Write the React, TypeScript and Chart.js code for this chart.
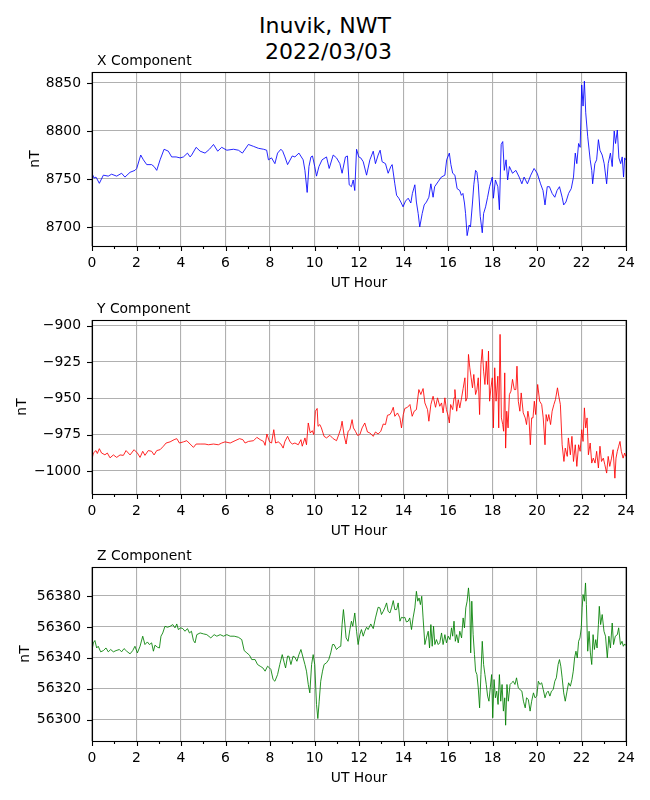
import React, { useEffect, useRef } from 'react';
import Chart from 'chart.js/auto';

// [UT hour, nT]
const xComponent: [number, number][] = [
  [0.00, 8756], [0.09, 8751], [0.18, 8752], [0.33, 8745.5], [0.51, 8754], [0.73, 8753], [0.88, 8755],
  [1.11, 8753], [1.33, 8756], [1.48, 8752], [1.71, 8757], [1.93, 8759], [2.01, 8761], [2.19, 8775],
  [2.31, 8770], [2.46, 8765], [2.68, 8765], [2.79, 8763], [2.91, 8759], [3.06, 8770], [3.24, 8781],
  [3.43, 8779], [3.58, 8773], [3.78, 8773], [3.96, 8772], [4.11, 8773], [4.29, 8777], [4.41, 8773],
  [4.48, 8775], [4.68, 8783], [4.86, 8779], [5.08, 8777], [5.28, 8781], [5.46, 8786], [5.65, 8779],
  [5.83, 8783], [6.06, 8780], [6.36, 8781], [6.58, 8780], [6.76, 8777], [7.03, 8786], [7.26, 8784],
  [7.48, 8782], [7.71, 8781], [7.85, 8780], [7.93, 8770], [8.07, 8772], [8.22, 8766], [8.34, 8777],
  [8.49, 8781], [8.57, 8779], [8.67, 8773], [8.79, 8765], [9.00, 8774], [9.12, 8773], [9.30, 8777],
  [9.49, 8770], [9.57, 8759], [9.67, 8736], [9.75, 8763], [9.84, 8773], [9.91, 8774], [10.01, 8763],
  [10.09, 8753], [10.20, 8763], [10.34, 8770], [10.54, 8773], [10.66, 8761], [10.84, 8775], [10.99, 8772],
  [11.14, 8766], [11.24, 8756], [11.39, 8773], [11.48, 8774], [11.56, 8744], [11.66, 8742], [11.74, 8749],
  [11.81, 8738], [11.89, 8781], [11.99, 8773], [12.08, 8772], [12.19, 8768], [12.34, 8754], [12.49, 8770],
  [12.64, 8779], [12.74, 8766], [12.86, 8775], [12.95, 8780], [13.04, 8768], [13.19, 8766], [13.31, 8756],
  [13.43, 8763], [13.49, 8765], [13.61, 8745], [13.69, 8733], [13.79, 8730], [13.88, 8726], [13.98, 8721],
  [14.09, 8727], [14.21, 8730], [14.33, 8725], [14.40, 8735], [14.51, 8744], [14.58, 8726], [14.66, 8714],
  [14.73, 8700], [14.84, 8714], [14.93, 8723], [15.03, 8726], [15.14, 8731], [15.23, 8745], [15.33, 8731],
  [15.40, 8742], [15.55, 8747], [15.70, 8752], [15.86, 8754], [15.94, 8770], [16.06, 8777], [16.13, 8765],
  [16.21, 8756], [16.31, 8754], [16.41, 8740], [16.53, 8738], [16.60, 8733], [16.67, 8735], [16.74, 8725],
  [16.79, 8714], [16.86, 8691], [16.95, 8702], [17.01, 8700], [17.10, 8725], [17.16, 8744], [17.24, 8759],
  [17.30, 8757], [17.36, 8745], [17.45, 8711], [17.54, 8694], [17.60, 8714], [17.69, 8721], [17.78, 8731],
  [17.87, 8742], [17.99, 8752], [18.04, 8730], [18.13, 8749], [18.24, 8742], [18.31, 8718], [18.39, 8786],
  [18.46, 8789], [18.53, 8759], [18.61, 8770], [18.68, 8749], [18.76, 8763], [18.90, 8756], [19.05, 8759],
  [19.20, 8752], [19.32, 8745], [19.42, 8752], [19.57, 8745], [19.72, 8754], [19.87, 8761], [20.01, 8756],
  [20.16, 8745], [20.27, 8738], [20.36, 8723], [20.46, 8742], [20.56, 8742], [20.68, 8735], [20.80, 8731],
  [20.90, 8738], [21.01, 8742], [21.13, 8731], [21.20, 8723], [21.30, 8726], [21.42, 8735], [21.54, 8740],
  [21.64, 8752], [21.72, 8777], [21.79, 8766], [21.87, 8787], [21.94, 8783], [22.01, 8848], [22.07, 8826],
  [22.13, 8852], [22.19, 8819], [22.28, 8794], [22.39, 8770], [22.46, 8759], [22.50, 8745], [22.60, 8766],
  [22.68, 8770], [22.76, 8791], [22.83, 8780], [22.93, 8775], [23.02, 8766], [23.13, 8745], [23.20, 8766],
  [23.30, 8777], [23.38, 8763], [23.47, 8800], [23.53, 8787], [23.61, 8801], [23.68, 8772], [23.76, 8766],
  [23.83, 8773], [23.89, 8752], [23.94, 8772], [23.99, 8770],
];

const yComponent: [number, number][] = [
  [0.00, -992], [0.06, -987.7], [0.18, -986], [0.24, -988], [0.33, -984.7], [0.43, -987.7], [0.58, -988.9],
  [0.69, -987.7], [0.81, -991], [0.96, -989], [1.11, -990.7], [1.26, -989], [1.41, -989.3], [1.53, -986],
  [1.71, -989], [1.89, -985.4], [2.04, -987.7], [2.16, -990.7], [2.28, -986.5], [2.38, -989.3], [2.53, -986],
  [2.68, -986.5], [2.79, -989], [2.91, -986], [3.06, -985.4], [3.21, -983], [3.33, -980.8], [3.51, -980],
  [3.69, -978.5], [3.81, -977.8], [3.93, -980.8], [4.11, -980], [4.26, -979.2], [4.41, -981.5], [4.56, -983.8],
  [4.68, -981.5], [4.86, -981.5], [5.08, -981.5], [5.23, -982], [5.46, -981.5], [5.68, -982], [5.83, -980.8],
  [5.98, -980], [6.21, -980.8], [6.43, -979.2], [6.63, -977.8], [6.78, -978.5], [6.88, -980.8], [7.03, -979.7],
  [7.26, -979.2], [7.41, -976.9], [7.56, -978.5], [7.71, -979.7], [7.78, -982.4], [7.86, -974.6], [7.98, -980],
  [8.07, -980.8], [8.17, -971.6], [8.25, -980.8], [8.37, -980], [8.49, -981.5], [8.59, -984.3], [8.67, -979.7],
  [8.79, -976.2], [8.90, -980], [9.00, -981.5], [9.12, -980.8], [9.27, -982], [9.39, -978.5], [9.45, -983],
  [9.57, -977.3], [9.64, -982], [9.72, -967], [9.81, -973.9], [9.90, -972.3], [9.97, -975], [10.04, -958.9],
  [10.12, -957], [10.16, -969.3], [10.24, -968.1], [10.31, -970.4], [10.43, -976.2], [10.54, -977.3],
  [10.69, -975.5], [10.84, -977.8], [10.99, -979.2], [11.09, -975], [11.18, -970.9], [11.24, -965.8],
  [11.33, -975.5], [11.42, -981.5], [11.51, -972.7], [11.59, -971.6], [11.69, -964.7], [11.75, -970.4],
  [11.84, -972.7], [11.93, -975.5], [12.04, -975], [12.14, -970.4], [12.26, -967], [12.38, -973.2],
  [12.49, -973.9], [12.64, -976.2], [12.74, -973.2], [12.86, -974.6], [12.98, -972.7], [13.09, -967.7],
  [13.19, -968.1], [13.28, -961.7], [13.39, -961.2], [13.46, -959.4], [13.54, -956.2], [13.61, -962.4],
  [13.73, -960.1], [13.84, -963.5], [13.91, -970.4], [13.99, -961.2], [14.06, -957], [14.18, -956.2],
  [14.29, -954.3], [14.39, -962.4], [14.48, -958.9], [14.58, -957.8], [14.69, -944], [14.78, -947.4],
  [14.88, -943.3], [14.96, -953.2], [15.08, -957.8], [15.14, -965.8], [15.23, -954.3], [15.33, -948.6],
  [15.44, -956.2], [15.53, -949.7], [15.63, -955.5], [15.71, -953.2], [15.78, -960.1], [15.86, -949.7],
  [15.93, -957.8], [16.01, -962.4], [16.06, -967], [16.12, -954.3], [16.21, -957.8], [16.27, -949.7],
  [16.31, -944], [16.39, -958.9], [16.46, -950.9], [16.53, -956.6], [16.61, -949.7], [16.68, -943.3],
  [16.76, -935.9], [16.80, -952], [16.86, -949.7], [16.92, -919.8], [16.98, -929], [17.04, -935.9],
  [17.10, -942.8], [17.16, -933.6], [17.24, -947.4], [17.30, -944], [17.36, -935.9], [17.42, -961.2],
  [17.48, -926.7], [17.54, -916.3], [17.60, -931.3], [17.66, -940.5], [17.72, -924.4], [17.78, -940.5],
  [17.82, -917.5], [17.87, -952], [17.93, -942.8], [17.99, -935.9], [18.04, -970.4], [18.10, -929],
  [18.16, -952], [18.24, -934.8], [18.28, -970.4], [18.34, -906], [18.40, -963.5], [18.46, -968.1],
  [18.50, -972.7], [18.55, -932.5], [18.59, -984.3], [18.64, -958.9], [18.70, -970.4], [18.76, -947.4],
  [18.83, -945.1], [18.90, -937], [18.98, -944], [19.05, -944], [19.10, -927.9], [19.16, -952],
  [19.23, -958.9], [19.29, -946.3], [19.38, -960], [19.47, -963.5], [19.53, -968.1], [19.59, -958.9],
  [19.64, -963.5], [19.70, -982], [19.76, -963.5], [19.82, -963.5], [19.88, -952], [19.94, -961.2],
  [20.03, -940.5], [20.12, -952], [20.21, -954.3], [20.28, -963.5], [20.36, -982], [20.41, -961.2],
  [20.47, -965.8], [20.53, -961.2], [20.61, -968.1], [20.68, -958.9], [20.76, -954.3], [20.83, -950.9],
  [20.92, -942.8], [20.98, -948.6], [21.05, -954.3], [21.13, -982], [21.21, -993.5], [21.27, -984.3],
  [21.36, -990], [21.41, -977.3], [21.50, -988.9], [21.57, -976.2], [21.64, -993.5], [21.72, -982],
  [21.79, -996.9], [21.87, -982], [21.94, -986.5], [22.01, -971.6], [22.07, -979.7], [22.13, -956.6],
  [22.19, -970.4], [22.25, -963.5], [22.31, -988.9], [22.39, -980.8], [22.46, -994.6], [22.53, -991.2],
  [22.61, -994.6], [22.68, -986.5], [22.76, -998], [22.83, -983], [22.90, -993.5], [22.98, -991.2],
  [23.05, -995.8], [23.13, -1001.5], [23.20, -990], [23.27, -996.9], [23.35, -991.2], [23.42, -985.4],
  [23.50, -1005], [23.55, -991.2], [23.61, -986.5], [23.67, -983], [23.73, -979.7], [23.79, -986.5],
  [23.87, -991.2], [23.94, -987.7], [23.99, -990],
];

const zComponent: [number, number][] = [
  [0.00, 56344.7], [0.06, 56349.7], [0.13, 56351.2], [0.21, 56346.4], [0.28, 56347.5], [0.39, 56343.9],
  [0.51, 56344.7], [0.63, 56346.4], [0.73, 56343.9], [0.84, 56345.4], [0.96, 56343.9], [1.08, 56344.7],
  [1.23, 56345.4], [1.33, 56343.9], [1.44, 56346], [1.56, 56344.3], [1.71, 56342.6], [1.83, 56344.7],
  [1.93, 56347.5], [2.04, 56343.2], [2.16, 56347.5], [2.28, 56354], [2.38, 56348.6], [2.49, 56350.3],
  [2.58, 56348.6], [2.68, 56349.7], [2.76, 56344.3], [2.83, 56348.2], [2.94, 56346.9], [3.03, 56346.4],
  [3.10, 56354], [3.18, 56356.1], [3.28, 56360.4], [3.39, 56359.8], [3.51, 56360.4], [3.63, 56361.5],
  [3.73, 56359.4], [3.81, 56361.9], [3.88, 56358.3], [3.99, 56359.4], [4.08, 56358.9], [4.18, 56357.2],
  [4.29, 56358.9], [4.38, 56356.1], [4.47, 56357.2], [4.56, 56351.2], [4.63, 56349.7], [4.71, 56355],
  [4.86, 56356.1], [5.01, 56355.5], [5.16, 56355], [5.34, 56352.9], [5.49, 56355], [5.61, 56354],
  [5.76, 56355], [5.91, 56354], [6.06, 56355], [6.21, 56354], [6.39, 56354], [6.58, 56353.3],
  [6.73, 56351.8], [6.84, 56344.7], [6.96, 56343.2], [7.08, 56341.7], [7.18, 56338.9], [7.33, 56338.9],
  [7.44, 56335.7], [7.56, 56334.6], [7.68, 56333.5], [7.78, 56331.4], [7.89, 56334.6], [7.98, 56333.5],
  [8.04, 56332.5], [8.14, 56326], [8.22, 56324.9], [8.34, 56329.2], [8.44, 56335.7], [8.55, 56342.1],
  [8.64, 56336.8], [8.70, 56333.5], [8.79, 56341.1], [8.85, 56341.1], [8.94, 56335.7], [9.04, 56341.1],
  [9.12, 56340.4], [9.21, 56337.8], [9.30, 56342.1], [9.39, 56345.4], [9.49, 56340], [9.57, 56335.7],
  [9.64, 56331.4], [9.72, 56322.8], [9.79, 56317.4], [9.87, 56335.7], [9.94, 56342.1], [10.01, 56335.7],
  [10.09, 56309.9], [10.15, 56300.8], [10.21, 56312], [10.28, 56324.9], [10.36, 56331.4], [10.43, 56335.7],
  [10.54, 56336.8], [10.64, 56338.9], [10.73, 56343.2], [10.81, 56348.6], [10.88, 56348.6], [10.99, 56345.4],
  [11.09, 56346.9], [11.18, 56347.5], [11.24, 56361.5], [11.30, 56371.2], [11.36, 56362.5], [11.42, 56352.9],
  [11.51, 56350.7], [11.59, 56358.3], [11.66, 56363.7], [11.72, 56360.4], [11.81, 56369], [11.89, 56357.2],
  [11.96, 56348.6], [12.04, 56355], [12.11, 56358.3], [12.19, 56354], [12.26, 56357.2], [12.34, 56359.8],
  [12.41, 56358.3], [12.53, 56361.9], [12.64, 56358.9], [12.74, 56365.8], [12.86, 56372.7], [12.94, 56372.3],
  [13.01, 56368], [13.09, 56370.1], [13.16, 56372.3], [13.24, 56375.5], [13.31, 56370.1], [13.39, 56369],
  [13.46, 56372.3], [13.54, 56377], [13.61, 56371.2], [13.69, 56371.2], [13.76, 56375.5], [13.84, 56363.7],
  [13.91, 56366.2], [13.99, 56365.8], [14.06, 56366.2], [14.13, 56363.2], [14.21, 56363.7], [14.28, 56365.8],
  [14.36, 56358.3], [14.43, 56365.8], [14.51, 56372.3], [14.58, 56383], [14.64, 56376.6], [14.70, 56378.7],
  [14.76, 56374.4], [14.82, 56379.8], [14.88, 56365.8], [14.96, 56348.6], [15.03, 56352.9], [15.11, 56357.2],
  [15.17, 56346.4], [15.23, 56361.5], [15.29, 56347.5], [15.35, 56360.4], [15.41, 56348.6], [15.48, 56351.8],
  [15.56, 56348.6], [15.63, 56349.7], [15.71, 56356.1], [15.78, 56348.6], [15.86, 56355], [15.93, 56349.7],
  [16.01, 56354], [16.09, 56351.8], [16.16, 56359.4], [16.21, 56354], [16.27, 56363.7], [16.33, 56350.7],
  [16.39, 56355], [16.46, 56349.7], [16.53, 56357.2], [16.61, 56352.9], [16.68, 56365.8], [16.74, 56359.4],
  [16.80, 56372.3], [16.86, 56376.6], [16.92, 56385.2], [16.98, 56375.5], [17.02, 56343.2], [17.07, 56376.6],
  [17.13, 56355], [17.19, 56342.1], [17.24, 56331.4], [17.30, 56329.2], [17.36, 56320.6], [17.42, 56307.7],
  [17.48, 56329.2], [17.54, 56350.7], [17.60, 56335.7], [17.66, 56329.2], [17.72, 56322.8], [17.78, 56315.3],
  [17.84, 56312], [17.90, 56320.6], [17.96, 56329.2], [18.01, 56301.3], [18.07, 56326], [18.13, 56314.2],
  [18.19, 56318.5], [18.25, 56309.9], [18.31, 56329.2], [18.37, 56312], [18.43, 56322.8], [18.49, 56305.6],
  [18.55, 56314.2], [18.59, 56296.5], [18.65, 56322.8], [18.71, 56312], [18.79, 56322.8], [18.86, 56323.9],
  [18.93, 56324.9], [19.01, 56322.8], [19.08, 56327.1], [19.16, 56320.6], [19.23, 56319.6], [19.32, 56318.5],
  [19.39, 56312], [19.47, 56307.7], [19.53, 56314.2], [19.61, 56313.1], [19.69, 56305.6], [19.76, 56312],
  [19.84, 56317.4], [19.91, 56314.2], [19.99, 56315.3], [20.06, 56324.9], [20.13, 56322.8], [20.21, 56323.9],
  [20.28, 56319.6], [20.36, 56314.2], [20.43, 56317.4], [20.50, 56318.5], [20.58, 56315.3], [20.65, 56318.5],
  [20.73, 56319.6], [20.80, 56324.9], [20.87, 56327.1], [20.95, 56335.7], [21.01, 56338.9], [21.07, 56334.6],
  [21.13, 56327.1], [21.20, 56317.4], [21.27, 56312], [21.35, 56318.5], [21.42, 56323.9], [21.50, 56321.7],
  [21.57, 56326], [21.63, 56331.4], [21.69, 56340], [21.75, 56344.3], [21.81, 56340], [21.87, 56350.7],
  [21.93, 56352.9], [21.99, 56359.4], [22.03, 56372.3], [22.07, 56380.9], [22.13, 56376.6], [22.18, 56388.4],
  [22.22, 56374.4], [22.28, 56344.3], [22.34, 56357.2], [22.40, 56343.2], [22.46, 56335.7], [22.52, 56355],
  [22.58, 56345.4], [22.64, 56351.8], [22.70, 56346.4], [22.76, 56361.5], [22.80, 56373.3], [22.86, 56361.5],
  [22.93, 56368], [23.01, 56357.2], [23.08, 56354], [23.16, 56340], [23.23, 56354], [23.30, 56346.4],
  [23.38, 56362.5], [23.44, 56348.6], [23.52, 56354], [23.61, 56355], [23.67, 56359.4], [23.75, 56348.6],
  [23.82, 56350.7], [23.88, 56347.5], [23.94, 56349], [23.99, 56348],
];

const FONT = '"DejaVu Sans", sans-serif';
const TICK_SIZE = 13.9;

interface PanelProps {
  title: string;
  points: [number, number][];
  color: string;
  yMin: number;
  yMax: number;
  yStep: number;
  top: number;
  yTitlePad: number;
}

// black frame, outward tick marks (major 5px, minor 3px) and the left-aligned subplot title
const framePlugin = {
  id: 'mplFrame',
  afterDraw(chart: any) {
    const { ctx, chartArea: a, scales } = chart;
    ctx.save();
    ctx.strokeStyle = '#000';
    ctx.lineWidth = 1.1;
    scales.x.ticks.forEach((t: any) => {
      const px = Math.round(scales.x.getPixelForValue(t.value)) + 0.5;
      const len = t.value % 2 === 0 ? 5 : 3;
      ctx.beginPath();
      ctx.moveTo(px, a.bottom);
      ctx.lineTo(px, a.bottom + len);
      ctx.stroke();
    });
    scales.y.ticks.forEach((t: any) => {
      const py = Math.round(scales.y.getPixelForValue(t.value)) + 0.5;
      ctx.beginPath();
      ctx.moveTo(a.left - 5, py);
      ctx.lineTo(a.left, py);
      ctx.stroke();
    });
    ctx.strokeRect(a.left + 0.5, a.top + 0.5, a.right - a.left, a.bottom - a.top);
    ctx.fillStyle = '#000';
    ctx.font = `${TICK_SIZE}px ${FONT}`;
    ctx.textAlign = 'left';
    ctx.textBaseline = 'alphabetic';
    ctx.fillText(chart.options.plugins.mplFrame.title, a.left + 5, a.top - 7);
    ctx.restore();
  },
};

const Panel: React.FC<PanelProps> = ({ title, points, color, yMin, yMax, yStep, top, yTitlePad }) => {
  const canvasRef = useRef<HTMLCanvasElement>(null);
  const chartRef = useRef<Chart | null>(null);

  useEffect(() => {
    if (!canvasRef.current) return;
    chartRef.current = new Chart(canvasRef.current, {
      type: 'line',
      data: {
        datasets: [{
          data: points.map(([x, y]) => ({ x, y })),
          borderColor: color,
          borderWidth: 0.85,
          pointRadius: 0,
          tension: 0,
          fill: false,
        }],
      },
      options: {
        responsive: false,
        animation: false,
        events: [],
        layout: { padding: { top: 28, right: 24, left: 0, bottom: 0 } },
        plugins: {
          legend: { display: false },
          tooltip: { enabled: false },
          mplFrame: { title },
        } as any,
        scales: {
          x: {
            type: 'linear',
            min: 0,
            max: 24,
            afterFit: (s: any) => { s.height = 46; },
            border: { display: false },
            grid: {
              color: (c: any) => (c.tick && c.tick.value % 2 === 0 ? '#b0b0b0' : 'rgba(0,0,0,0)'),
              lineWidth: 1.1,
              drawTicks: false,
            },
            ticks: {
              stepSize: 1,
              autoSkip: false,
              maxRotation: 0,
              padding: 9,
              color: '#000',
              font: { family: FONT, size: TICK_SIZE },
              callback: (v: any) => (Number(v) % 2 === 0 ? String(v) : ''),
            },
            title: {
              display: true,
              text: 'UT Hour',
              color: '#000',
              font: { family: FONT, size: TICK_SIZE },
              padding: { top: 0, bottom: 0 },
            },
          },
          y: {
            type: 'linear',
            min: yMin,
            max: yMax,
            afterFit: (s: any) => { s.width = 92; },
            border: { display: false },
            grid: { color: '#b0b0b0', lineWidth: 1.1, drawTicks: false },
            ticks: {
              stepSize: yStep,
              includeBounds: false,
              padding: 11,
              color: '#000',
              font: { family: FONT, size: TICK_SIZE },
              callback: (v: any) => String(v).replace('-', '\u2212'),
            },
            title: {
              display: true,
              text: 'nT',
              color: '#000',
              font: { family: FONT, size: TICK_SIZE },
              padding: { top: yTitlePad, bottom: 0 },
            },
          },
        },
      },
      plugins: [framePlugin],
    });
    return () => {
      chartRef.current?.destroy();
      chartRef.current = null;
    };
  }, [title, points, color, yMin, yMax, yStep, yTitlePad]);

  return (
    <canvas
      ref={canvasRef}
      width={650}
      height={248}
      style={{ position: 'absolute', left: 0, top, width: 650, height: 248 }}
    />
  );
};

const App: React.FC = () => (
  <div style={{ position: 'absolute', left: 0, top: 0, width: 650, height: 800, background: '#fff' }}>
    <div
      style={{
        position: 'absolute',
        top: 13,
        left: 0,
        width: 650,
        textAlign: 'center',
        fontFamily: FONT,
        fontSize: 22,
        lineHeight: '26px',
        whiteSpace: 'pre',
        color: '#000',
      }}
    >
      {'Inuvik, NWT\n 2022/03/03'}
    </div>
    <Panel title="X Component" points={xComponent} color="#0000ff" yMin={8680.2} yMax={8861.5} yStep={50} top={44} yTitlePad={26.7} />
    <Panel title="Y Component" points={yComponent} color="#ff0000" yMin={-1015.9} yMax={-896.1} yStep={25} top={292} yTitlePad={13.7} />
    <Panel title="Z Component" points={zComponent} color="#008000" yMin={56286.3} yMax={56398.7} yStep={20} top={539} yTitlePad={16.7} />
  </div>
);

export default App;
